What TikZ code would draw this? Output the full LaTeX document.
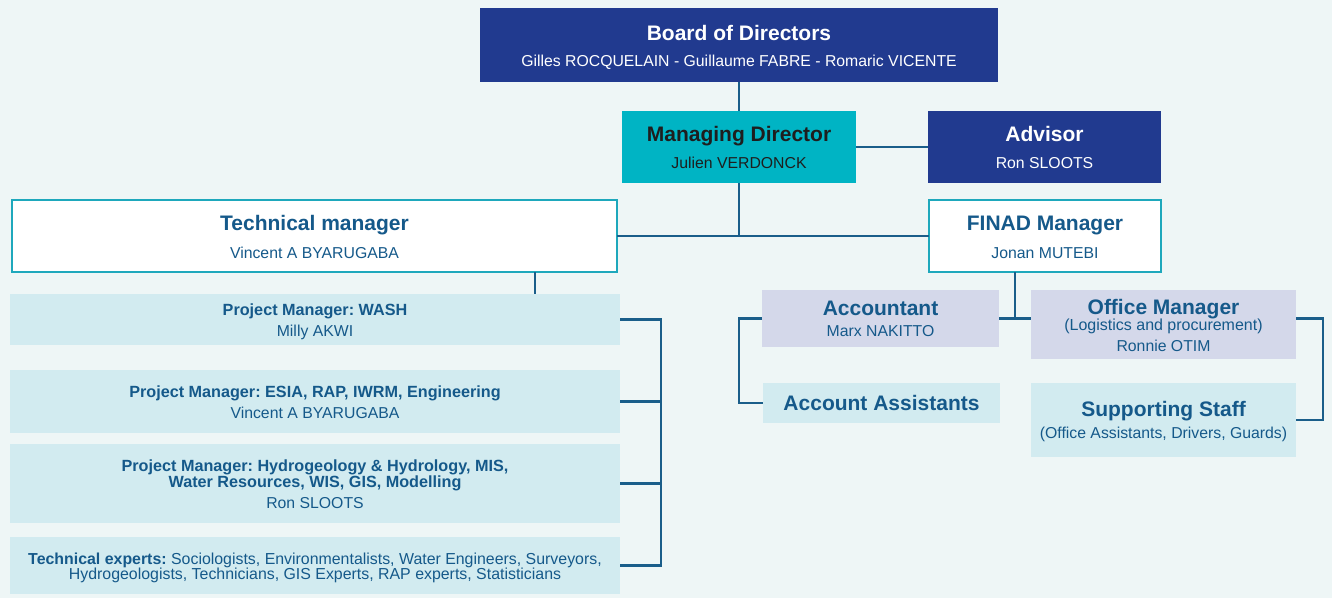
\documentclass[tikz,border=0pt]{standalone}
\usepackage{fontspec}
\setmainfont{Liberation Sans}
\usetikzlibrary{calc}
\frenchspacing
\definecolor{bgc}{HTML}{EEF6F6}
\definecolor{navy}{HTML}{213A8F}
\definecolor{tealc}{HTML}{00B4C4}
\definecolor{bordc}{HTML}{1EA8BC}
\definecolor{txtb}{HTML}{15598A}
\definecolor{linec}{HTML}{1A5E8A}
\definecolor{lightb}{HTML}{D2EBF0}
\definecolor{lav}{HTML}{D4D8EA}
\definecolor{mdtxt}{HTML}{1E1E1E}
\newcommand{\ttlsize}{\fontsize{21}{24}\selectfont\bfseries}
\newcommand{\nmsize}{\fontsize{15.8}{18}\selectfont}
\newcommand{\pmsize}{\fontsize{16.2}{18}\selectfont\bfseries}
\begin{document}
\frenchspacing
\begin{tikzpicture}[x=1pt,y=-1pt,
  box/.style={rectangle,inner sep=0pt,outer sep=0pt},
  darkbox/.style={box,fill=navy},
  mdbox/.style={box,fill=tealc},
  whitebox/.style={box,fill=white,draw=bordc,line width=2pt},
  pmbox/.style={box,fill=lightb},
  lavbox/.style={box,fill=lav},
  txt/.style={inner sep=0pt,anchor=base,align=center,execute at begin node=\frenchspacing},
  conn/.style={draw=linec,line width=2.5pt}
]
\useasboundingbox[fill=bgc] (0,0) rectangle (1332,598);
% boxes
\node[darkbox,minimum width=518pt,minimum height=74pt] (board) at (739,45) {};
\node[mdbox,minimum width=234pt,minimum height=72pt] (md) at (739,147) {};
\node[darkbox,minimum width=233pt,minimum height=72pt] (adv) at (1044.5,147) {};
\node[whitebox,minimum width=605pt,minimum height=72pt] (tm) at (314.5,236) {};
\node[whitebox,minimum width=232pt,minimum height=72pt] (finad) at (1045,236) {};
\node[pmbox,minimum width=610pt,minimum height=51pt] (wash) at (315,319.5) {};
\node[pmbox,minimum width=610pt,minimum height=63pt] (esia) at (315,401.5) {};
\node[pmbox,minimum width=610pt,minimum height=79pt] (hydro) at (315,483.5) {};
\node[pmbox,minimum width=610pt,minimum height=57pt] (tech) at (315,565.5) {};
\node[lavbox,minimum width=237pt,minimum height=57pt] (acc) at (880.5,318.5) {};
\node[lavbox,minimum width=265pt,minimum height=69pt] (om) at (1163.5,324.5) {};
\node[pmbox,minimum width=237pt,minimum height=40pt] (aa) at (881.5,403) {};
\node[pmbox,minimum width=265pt,minimum height=74pt] (ss) at (1163.5,420) {};
% texts
\node[txt,text=white] (t1) at (739,40.7) {\ttlsize Board of Directors};
\node[txt,text=white] (t2) at (739,66.7) {\nmsize Gilles ROCQUELAIN - Guillaume FABRE - Romaric VICENTE};
\node[txt,text=mdtxt] (t3) at (739,141.7) {\ttlsize Managing Director};
\node[txt,text=mdtxt] (t4) at (739,168.3) {\nmsize Julien VERDONCK};
\node[txt,text=white] (t5) at (1044.5,141.7) {\ttlsize Advisor};
\node[txt,text=white] (t6) at (1044.5,168.3) {\nmsize Ron SLOOTS};
\node[txt,text=txtb] (t7) at (314.5,230.7) {\ttlsize Technical manager};
\node[txt,text=txtb] (t8) at (314.5,258.3) {\nmsize Vincent A BYARUGABA};
\node[txt,text=txtb] (t9) at (1045,230.7) {\ttlsize FINAD Manager};
\node[txt,text=txtb] (t10) at (1045,258.3) {\nmsize Jonan MUTEBI};
\node[txt,text=txtb] (t11) at (315,315) {\pmsize Project Manager: WASH};
\node[txt,text=txtb] (t12) at (315,336.7) {\nmsize Milly AKWI};
\node[txt,text=txtb] (t13) at (315,397.3) {\pmsize Project Manager: ESIA, RAP, IWRM, Engineering};
\node[txt,text=txtb] (t14) at (315,418.3) {\nmsize Vincent A BYARUGABA};
\node[txt,text=txtb] (t15) at (315,471.7) {\pmsize Project Manager: Hydrogeology \& Hydrology, MIS,};
\node[txt,text=txtb] (t16) at (315,487.3) {\pmsize Water Resources, WIS, GIS, Modelling};
\node[txt,text=txtb] (t17) at (315,508.3) {\nmsize Ron SLOOTS};
\node[txt,text=txtb] (t18) at (315,564) {\fontsize{15.9}{18}\selectfont\textbf{Technical experts:} Sociologists, Environmentalists, Water Engineers, Surveyors,};
\node[txt,text=txtb] (t19) at (315,579.3) {\fontsize{15.9}{18}\selectfont Hydrogeologists, Technicians, GIS Experts, RAP experts, Statisticians};
\node[txt,text=txtb] (t20) at (880.5,315) {\ttlsize Accountant};
\node[txt,text=txtb] (t21) at (880.5,336.7) {\nmsize Marx NAKITTO};
\node[txt,text=txtb] (t22) at (1163.5,314) {\ttlsize Office Manager};
\node[txt,text=txtb] (t23) at (1163.5,330) {\fontsize{16}{17}\selectfont (Logistics and procurement)};
\node[txt,text=txtb] (t24) at (1163.5,351.7) {\nmsize Ronnie OTIM};
\node[txt,text=txtb] (t25) at (881.5,410.7) {\ttlsize Account Assistants};
\node[txt,text=txtb] (t26) at (1163.5,416.7) {\ttlsize Supporting Staff};
\node[txt,text=txtb] (t27) at (1163.5,438.3) {\nmsize (Office Assistants, Drivers, Guards)};
% helper coordinates
\coordinate (tmx) at (535,0);
\coordinate (brk) at (661,0);
\coordinate (lb) at (739,0);
\coordinate (rb) at (1323,0);
\coordinate (fj) at ($(acc.east)!0.5!(acc.east -| om.west)$);
% connectors
\draw[conn] (board.south) -- (md.north);
\draw[conn] (md.east) -- (adv.west);
\draw[conn] (md.south) -- (md.south |- tm.east);
\draw[conn] (tm.east) -- (finad.west);
\draw[conn] (tm.south -| tmx) -- (wash.north -| tmx);
\draw[conn] (wash.east) -- (wash.east -| brk) -- (tech.east -| brk) -- (tech.east);
\draw[conn] (esia.east) -- (esia.east -| brk);
\draw[conn] (hydro.east) -- (hydro.east -| brk);
\draw[conn] (finad.south -| fj) -- (fj);
\draw[conn] (acc.east) -- (acc.east -| om.west);
\draw[conn] (acc.west) -- (acc.west -| lb) -- (aa.west -| lb) -- (aa.west);
\draw[conn] (om.east |- acc.east) -- (rb |- acc.east) -- (rb |- ss.east) -- (ss.east);
\end{tikzpicture}
\end{document}
